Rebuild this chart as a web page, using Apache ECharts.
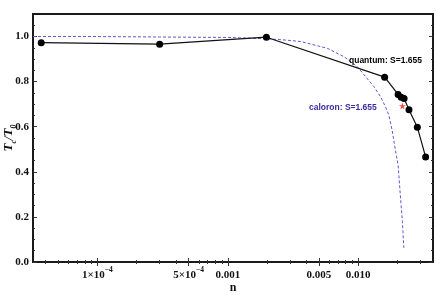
<!DOCTYPE html>
<html>
<head>
<meta charset="utf-8">
<script src="https://cdn.jsdelivr.net/npm/echarts@6/dist/echarts.min.js"></script>
<style>html,body{margin:0;padding:0;background:#fff}#c{width:436px;height:295px}</style>
</head>
<body>
<div id="c"></div>
<script>
// ---- data ----
const quantumN = [3.7e-5, 3.0e-4, 0.00198, 0.0160, 0.0203, 0.0214, 0.02255, 0.0246, 0.0285, 0.0330];
const quantumT = [0.973, 0.966, 0.997, 0.820, 0.743, 0.731, 0.725, 0.675, 0.598, 0.466];
const caloronN = [3.2e-5, 1e-4, 3e-4, 1e-3, 2e-3, 2.7e-3, 3.62e-3, 5.8e-3, 7.78e-3, 9.84e-3, 0.0114, 0.01322, 0.01485, 0.01622, 0.01722, 0.01824, 0.0193, 0.0203, 0.0211, 0.0219, 0.02244];
const caloronT = [1.0, 1.0, 0.998, 0.996, 0.99, 0.985, 0.978, 0.948, 0.911, 0.867, 0.823, 0.778, 0.734, 0.689, 0.652, 0.586, 0.50, 0.43, 0.297, 0.179, 0.063];
const starN = [0.0219];
const starT = [0.692];
const xTickValues = [1e-4, 5e-4, 1e-3, 5e-3, 1e-2];
const xTickLabels = ['{m|1×10}{e|−4}', '{m|5×10}{e|−4}', '{m|0.001}', '{m|0.005}', '{m|0.010}'];
const yTickValues = [0, 0.2, 0.4, 0.6, 0.8, 1.0];
const yTickLabels = ['0.0', '0.2', '0.4', '0.6', '0.8', '1.0'];
const quantumLabel = 'quantum: S=1.655';
const caloronLabel = 'caloron: S=1.655';

const xMin = 3.2e-5, xMax = 0.0376, yMin = 0, yMax = 1.1;
const minorX = [];
for (let p = -5; p <= -2; p++) for (let k = 1; k <= 9; k++) {
  const v = k * Math.pow(10, p);
  if (v > xMin && v < xMax && !xTickValues.some(t => Math.abs(t - v) / t < 1e-9)) minorX.push(v);
}
const minorY = [];
for (let i = 1; i <= 21; i++) { const v = +(i * 0.05).toFixed(2); if (Math.round(v * 100) % 20 !== 0) minorY.push(v); }

const tickStyle = { color: '#333', width: 1 };
const serif = '"Liberation Serif", "DejaVu Serif", serif';

function xAxisDef(pos, major, withLabels) {
  return {
    type: 'log', logBase: 10, position: pos, min: xMin, max: xMax,
    axisLine: { show: false },
    axisTick: { show: true, inside: true, length: major ? 4 : 2, customValues: major ? xTickValues : minorX, lineStyle: tickStyle },
    axisLabel: withLabels ? {
      show: true, customValues: xTickValues, margin: 4,
      formatter: v => { const i = xTickValues.findIndex(t => Math.abs(Math.log10(t) - Math.log10(v)) < 1e-6); return i >= 0 ? xTickLabels[i] : ''; },
      rich: {
        m: { fontFamily: serif, fontWeight: 'bold', fontSize: 11, color: '#111', lineHeight: 15, verticalAlign: 'bottom' },
        e: { fontFamily: serif, fontWeight: 'bold', fontSize: 7.5, color: '#111', verticalAlign: 'top', lineHeight: 9 }
      }
    } : { show: false },
    splitLine: { show: false },
    name: withLabels ? 'n' : '', nameLocation: 'middle', nameGap: 20, nameMoveOverlap: false,
    nameTextStyle: { fontFamily: serif, fontWeight: 'bold', fontSize: 12, color: '#111' }
  };
}
function yAxisDef(pos, major, withLabels) {
  return {
    type: 'value', position: pos, min: yMin, max: yMax,
    axisLine: { show: false },
    axisTick: { show: true, inside: true, length: major ? 4 : 2, customValues: major ? yTickValues : minorY, lineStyle: tickStyle },
    axisLabel: withLabels ? {
      show: true, customValues: yTickValues, margin: 4,
      formatter: v => { const i = yTickValues.findIndex(t => Math.abs(t - v) < 1e-6); return i >= 0 ? yTickLabels[i] : ''; },
      fontFamily: serif, fontWeight: 'bold', fontSize: 11, color: '#111'
    } : { show: false },
    splitLine: { show: false },
    name: withLabels ? '{t|T}{s|c}{t|/T}{s|0}' : '', nameLocation: 'middle', nameGap: 15, nameRotate: 90, nameMoveOverlap: false,
    nameTextStyle: {
      rich: {
        t: { fontFamily: serif, fontStyle: 'italic', fontWeight: 'bold', fontSize: 13, color: '#111', lineHeight: 16, verticalAlign: 'top' },
        s: { fontFamily: serif, fontStyle: 'italic', fontWeight: 'bold', fontSize: 8, color: '#111', lineHeight: 16, verticalAlign: 'bottom' }
      }
    }
  };
}

const starPath = 'path://M50,0 L61,35 L98,35 L68,57 L79,91 L50,70 L21,91 L32,57 L2,35 L39,35 Z';

const chart = echarts.init(document.getElementById('c'), null, { renderer: 'canvas' });
chart.setOption({
  animation: false,
  backgroundColor: '#fff',
  grid: { left: 33, right: 3, top: 14, bottom: 33, containLabel: false, outerBoundsMode: 'none',
          show: true, borderColor: '#1a1a1a', borderWidth: 2, backgroundColor: 'transparent' },
  xAxis: [xAxisDef('bottom', true, true), xAxisDef('top', true, false), xAxisDef('bottom', false, false), xAxisDef('top', false, false)],
  yAxis: [yAxisDef('left', true, true), yAxisDef('right', true, false), yAxisDef('left', false, false), yAxisDef('right', false, false)],
  series: [
    {
      type: 'line', name: 'caloron', xAxisIndex: 0, yAxisIndex: 0,
      data: caloronN.map((n, i) => [n, caloronT[i]]),
      showSymbol: false, symbol: 'none', smooth: false,
      lineStyle: { color: '#5a5ad2', width: 1, type: [3, 2] }, z: 2
    },
    {
      type: 'line', name: 'quantum', xAxisIndex: 0, yAxisIndex: 0,
      data: quantumN.map((n, i) => [n, quantumT[i]]),
      symbol: 'circle', symbolSize: 7, showAllSymbol: true,
      itemStyle: { color: '#000' },
      lineStyle: { color: '#111', width: 1.2 }, z: 3
    },
    {
      type: 'scatter', name: 'star', xAxisIndex: 0, yAxisIndex: 0,
      data: starN.map((n, i) => [n, starT[i]]),
      symbol: starPath, symbolSize: 7, itemStyle: { color: '#ee2211' }, z: 4
    }
  ],
  graphic: [
    { type: 'text', x: 349, y: 56, z: 10, style: { text: quantumLabel, font: 'bold 8.5px "Liberation Sans", Arial, sans-serif', fill: '#000' } },
    { type: 'text', x: 309, y: 103, z: 10, style: { text: caloronLabel, font: 'bold 8.5px "Liberation Sans", Arial, sans-serif', fill: '#3a2c9c' } }
  ]
});
</script>
</body>
</html>
